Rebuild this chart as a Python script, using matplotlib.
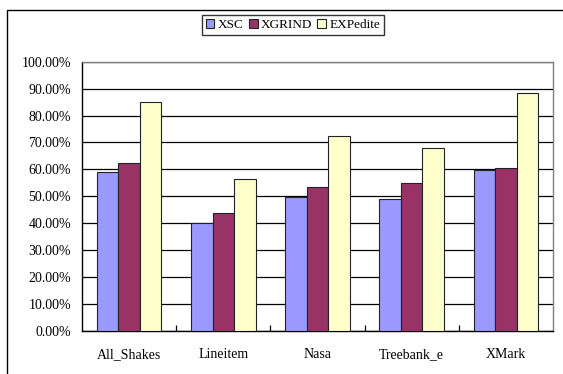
import numpy as np
import matplotlib.pyplot as plt
from matplotlib.patches import Rectangle
from matplotlib.ticker import FuncFormatter

plt.rcParams['font.family'] = ['Liberation Serif', 'DejaVu Serif']

datasets = ['All_Shakes', 'Lineitem', 'Nasa', 'Treebank_e', 'XMark']
xsc = [59.0, 40.1, 49.7, 49.0, 59.6]
xgrind = [62.3, 43.8, 53.4, 54.8, 60.6]
expedite = [85.2, 56.5, 72.5, 67.8, 88.4]

series = [('XSC', xsc, '#9999FF'),
          ('XGRIND', xgrind, '#993366'),
          ('EXPedite', expedite, '#FFFFCC')]

fig = plt.figure(figsize=(5.63, 3.74), dpi=100)
ax = fig.add_axes([82 / 563, 43 / 374, 471 / 563, 269.3 / 374])

# outer chart frame (runs off the right and bottom edge)
fig.patches.append(Rectangle((7 / 563, -0.1), 1.2, 1 - 10.5 / 374 + 0.1,
                             transform=fig.transFigure, fill=False,
                             edgecolor='black', linewidth=1.0))

x = np.arange(len(datasets))
w = 0.228
for i, (name, vals, color) in enumerate(series):
    ax.bar(x + (i - 1) * w, vals, w, color=color, edgecolor='#222222',
           linewidth=0.8, label=name, zorder=3)

ax.set_ylim(0, 100)
ax.set_xlim(-0.5, len(datasets) - 0.5)
ax.set_yticks(np.arange(0, 101, 10))
ax.yaxis.set_major_formatter(FuncFormatter(lambda v, p: f'{v:.2f}%'))
ax.yaxis.grid(True, color='black', linewidth=0.9, zorder=0)
ax.set_axisbelow(True)

# category labels centred, small ticks at the group boundaries
ax.set_xticks(x)
ax.set_xticklabels(datasets)
ax.set_xticks(np.arange(0.5, len(datasets) - 0.5, 1), minor=True)
ax.tick_params(axis='x', which='major', length=0, pad=12, labelsize=10)
ax.tick_params(axis='x', which='minor', direction='in', length=4, width=0.9)
ax.tick_params(axis='y', length=0, pad=8, labelsize=10)

for side in ['top', 'right']:
    ax.spines[side].set_color('#808080')
for side in ['left', 'bottom']:
    ax.spines[side].set_color('black')
for s in ax.spines.values():
    s.set_linewidth(1.0)

leg = fig.legend(loc='center', bbox_to_anchor=(293 / 563, 1 - 25 / 374), ncol=3,
                 fontsize=9.5, frameon=True, fancybox=False, edgecolor='black',
                 handlelength=0.65, handleheight=0.65, handletextpad=0.25,
                 columnspacing=0.4, borderpad=0.3, borderaxespad=0)
leg.get_frame().set_linewidth(1.0)

fig.savefig('out.png', dpi=100)
